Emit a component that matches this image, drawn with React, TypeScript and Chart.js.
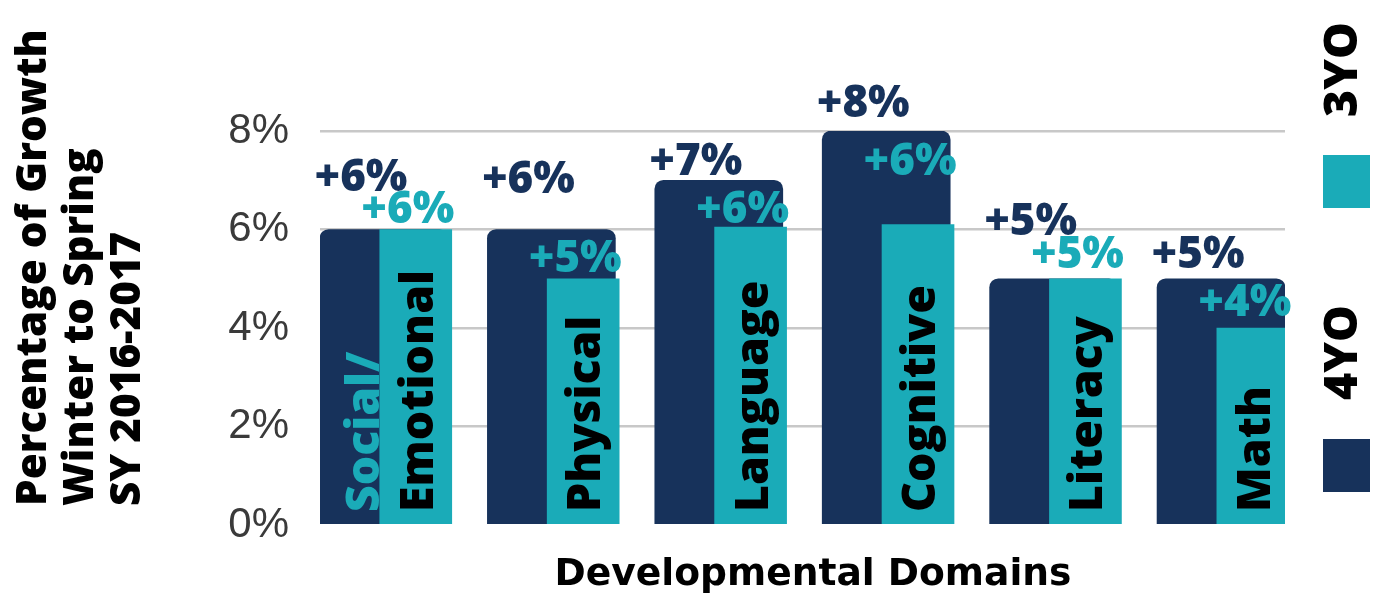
import React, { useEffect, useRef } from "react";
import { Chart, registerables } from "chart.js";

Chart.register(...registerables);

// ---------- data ----------
const categories: string[][] = [
  ["Social/", "Emotional"],
  ["Physical"],
  ["Language"],
  ["Cognitive"],
  ["Literacy"],
  ["Math"],
];
const series4YO = [6, 6, 7, 8, 5, 5];
const series3YO = [6, 5, 6.05, 6.1, 5, 4];
const labels4YO = ["+6%", "+6%", "+7%", "+8%", "+5%", "+5%"];
const labels3YO = ["+6%", "+5%", "+6%", "+6%", "+5%", "+4%"];
const yTickValues = [0, 2, 4, 6, 8];
const yTitleLines = ["Percentage of Growth", "Winter to Spring", "SY 2016-2017"];
const xTitle = "Developmental Domains";
const seriesNames = ["4YO", "3YO"];

// ---------- styling ----------
const NAVY = "#17325B";
const TEAL = "#1AABB8";
const BOLD = "'Open Sans', 'DejaVu Sans', sans-serif";
// vertical gap (px) between a bar top and its value label baseline
const navyLabelLift = [39, 37, 5, 14, 44, 11];
const tealLabelLift = [7, 7, 4, 50, 11, 12];
const TEAL_SHIFT = 0.19; // category units the teal bar sits right of the navy bar
const X_PAD = 0.382;

function fitFont(ctx: CanvasRenderingContext2D, text: string, target: number, weight: string, family: string) {
  ctx.font = `${weight} 40px ${family}`;
  const w = ctx.measureText(text).width;
  const size = (40 * target) / w;
  ctx.font = `${weight} ${size.toFixed(2)}px ${family}`;
}

const overlayPlugin = {
  id: "overlay",
  afterDatasetsDraw(chart: any) {
    const ctx: CanvasRenderingContext2D = chart.ctx;
    const navyMeta = chart.getDatasetMeta(0);
    const tealMeta = chart.getDatasetMeta(1);
    const base = chart.scales.y.getPixelForValue(0);

    ctx.save();
    // value labels
    fitFont(ctx, "+6%", 93, "800", BOLD);
    ctx.textBaseline = "alphabetic";
    ctx.textAlign = "center";
    navyMeta.data.forEach((el: any, i: number) => {
      ctx.fillStyle = NAVY;
      ctx.fillText(labels4YO[i], el.x - 23, el.y - navyLabelLift[i]);
    });
    tealMeta.data.forEach((el: any, i: number) => {
      ctx.fillStyle = TEAL;
      ctx.fillText(labels3YO[i], el.x - 8, el.y - tealLabelLift[i]);
    });

    // category names inside bars (rotated)
    fitFont(ctx, "Emotional", 242, "800", BOLD);
    ctx.textAlign = "left";
    tealMeta.data.forEach((el: any, i: number) => {
      const lines = categories[i];
      ctx.save();
      ctx.translate(el.x + 17, base - 13);
      ctx.rotate(-Math.PI / 2);
      lines.forEach((line, j) => {
        const k = lines.length - 1 - j;
        ctx.fillStyle = k === 0 ? "#000000" : TEAL;
        ctx.fillText(line, 0, -k * 54);
      });
      ctx.restore();
    });

    // y-axis title (rotated, three lines)
    fitFont(ctx, yTitleLines[0], 477, "800", BOLD);
    ctx.fillStyle = "#000000";
    const titleBaselines = [46, 93, 140];
    yTitleLines.forEach((line, j) => {
      ctx.save();
      ctx.translate(titleBaselines[j], 506);
      ctx.rotate(-Math.PI / 2);
      ctx.fillText(line, 0, 0);
      ctx.restore();
    });

    // x-axis title
    fitFont(ctx, xTitle, 517, "bold", "'DejaVu Sans', sans-serif");
    ctx.textAlign = "center";
    ctx.fillText(xTitle, 813, 585);

    // legend (rotated names with swatches)
    const legendItems = [
      { name: seriesNames[1], color: chart.data.datasets[1].backgroundColor, textY: 117, boxY: 155 },
      { name: seriesNames[0], color: chart.data.datasets[0].backgroundColor, textY: 400, boxY: 439 },
    ];
    fitFont(ctx, "3YO", 95, "800", BOLD);
    ctx.textAlign = "left";
    legendItems.forEach((it) => {
      ctx.save();
      ctx.translate(1357, it.textY);
      ctx.rotate(-Math.PI / 2);
      ctx.fillStyle = "#000000";
      ctx.fillText(it.name, 0, 0);
      ctx.restore();
      ctx.fillStyle = it.color;
      ctx.fillRect(1323, it.boxY, 47, 53);
    });
    ctx.restore();
  },
};

export default function App() {
  const canvasRef = useRef<HTMLCanvasElement | null>(null);

  useEffect(() => {
    if (!canvasRef.current) return;
    const n = categories.length;
    const integerTicks = (scale: any) => {
      scale.ticks = categories.map((_, i) => ({ value: i }));
    };
    const chart = new Chart(canvasRef.current, {
      type: "bar",
      data: {
        datasets: [
          {
            label: seriesNames[0],
            data: series4YO.map((v, i) => ({ x: i, y: v })),
            backgroundColor: NAVY,
            grouped: false,
            barPercentage: 1,
            categoryPercentage: 1,
            maxBarThickness: 128,
            borderRadius: 9,
            borderSkipped: "start",
            xAxisID: "x",
            order: 1,
          },
          {
            label: seriesNames[1],
            data: series3YO.map((v, i) => ({ x: i, y: v })),
            backgroundColor: TEAL,
            grouped: false,
            barPercentage: 1,
            categoryPercentage: 1,
            maxBarThickness: 72,
            borderRadius: 0,
            xAxisID: "x2",
            order: 0,
          },
        ],
      } as any,
      options: {
        animation: false,
        responsive: false,
        devicePixelRatio: 1,
        layout: { padding: { left: 228, right: 91, top: 131, bottom: 80 } },
        plugins: {
          legend: { display: false },
          tooltip: { enabled: false },
        },
        scales: {
          x: {
            type: "linear",
            display: false,
            offset: false,
            min: -X_PAD,
            max: n - 1 + X_PAD,
            afterBuildTicks: integerTicks,
          },
          x2: {
            type: "linear",
            display: false,
            offset: false,
            min: -X_PAD - TEAL_SHIFT,
            max: n - 1 + X_PAD - TEAL_SHIFT,
            afterBuildTicks: integerTicks,
          },
          y: {
            min: yTickValues[0],
            max: yTickValues[yTickValues.length - 1],
            afterFit: (scale: any) => {
              scale.width = 92;
            },
            afterBuildTicks: (scale: any) => {
              scale.ticks = yTickValues.map((v) => ({ value: v }));
            },
            ticks: {
              padding: 31,
              color: "#3A3A3A",
              font: { family: "'Liberation Sans', Arial, sans-serif", size: 42 },
              callback: (v: any) => `${v}%`,
            },
            border: { display: false },
            grid: {
              drawTicks: false,
              lineWidth: 2.5,
              color: (c: any) => (c.tick && c.tick.value === 0 ? "rgba(0,0,0,0)" : "#C8C8C8"),
            },
          },
        },
      } as any,
      plugins: [overlayPlugin],
    });
    return () => chart.destroy();
  }, []);

  return (
    <div style={{ position: "fixed", left: 0, top: 0, width: 1376, height: 605, background: "#fff" }}>
      <canvas ref={canvasRef} width={1376} height={605} style={{ display: "block" }} />
    </div>
  );
}
